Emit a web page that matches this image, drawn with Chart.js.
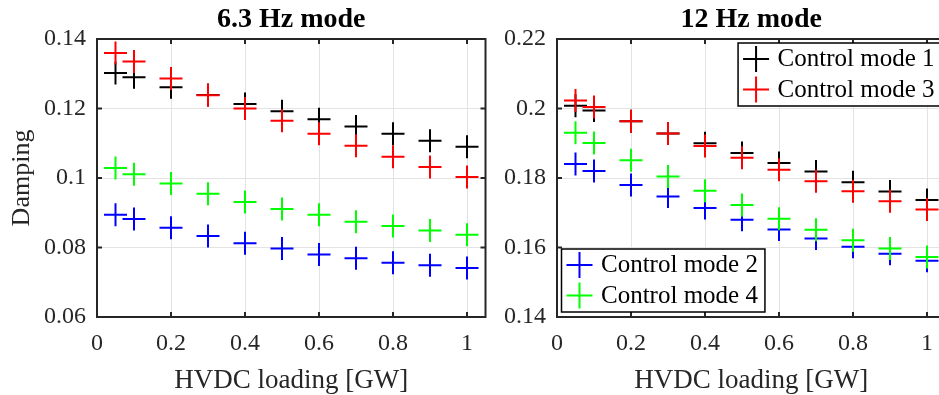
<!DOCTYPE html>
<html>
<head>
<meta charset="utf-8">
<script src="https://cdn.jsdelivr.net/npm/chart.js@4.4.1/dist/chart.umd.min.js"></script>
<style>
html, body { margin: 0; padding: 0; background: #fff; }
body { width: 939px; height: 395px; overflow: hidden; position: relative; }
#grafico63 { position: absolute; left: 0; top: 0; }
#grafico12 { position: absolute; left: 495px; top: 0; }
</style>
</head>
<body>
<canvas id="grafico63" width="499" height="395"></canvas>
<canvas id="grafico12" width="464" height="395"></canvas>
<script>
// HVDC loading [GW]
var cargas = [0.05, 0.1, 0.2, 0.3, 0.4, 0.5, 0.6, 0.7, 0.8, 0.9, 1.0];
var ticksX = [0, 0.2, 0.4, 0.6, 0.8, 1];
var ticksY63 = [0.06, 0.08, 0.1, 0.12, 0.14];
var ticksY12 = [0.14, 0.16, 0.18, 0.2, 0.22];

var rotulos = ['Control mode 1', 'Control mode 2', 'Control mode 3', 'Control mode 4'];
var cores = ['#000000', '#0000ff', '#ff0000', '#00ff00'];

// 6.3 Hz mode
var modo1_63 = [0.1302, 0.1290, 0.1261, 0.1239, 0.1213, 0.1192, 0.1169, 0.1148, 0.1127, 0.1107, 0.1090];
var modo2_63 = [0.0894, 0.0882, 0.0857, 0.0833, 0.0812, 0.0797, 0.0780, 0.0769, 0.0756, 0.0749, 0.0741];
var modo3_63 = [0.1360, 0.1335, 0.1286, 0.1238, 0.1200, 0.1165, 0.1127, 0.1093, 0.1061, 0.1032, 0.1003];
var modo4_63 = [0.1029, 0.1011, 0.0984, 0.0955, 0.0931, 0.0911, 0.0894, 0.0874, 0.0862, 0.0849, 0.0837];

// 12 Hz mode
var modo1_12 = [0.2008, 0.1994, 0.1963, 0.1928, 0.1900, 0.1872, 0.1843, 0.1819, 0.1788, 0.1761, 0.1737];
var modo2_12 = [0.1840, 0.1820, 0.1780, 0.1747, 0.1714, 0.1680, 0.1652, 0.1626, 0.1602, 0.1582, 0.1562];
var modo3_12 = [0.2023, 0.2004, 0.1963, 0.1928, 0.1892, 0.1858, 0.1824, 0.1791, 0.1762, 0.1733, 0.1709];
var modo4_12 = [0.1930, 0.1901, 0.1851, 0.1804, 0.1763, 0.1722, 0.1683, 0.1651, 0.1621, 0.1597, 0.1573];

var fonte = '"Liberation Serif", "Times New Roman", serif';
var cinza = '#262626';

function formata(v) {
	return String(Math.round(v * 1000) / 1000);
}

function desenhaLegenda(chart, leg) {
	var ctx = chart.ctx, a = chart.chartArea;
	ctx.font = '25px ' + fonte;
	var w = 0;
	leg.itens.forEach(function(i) {
		w = Math.max(w, ctx.measureText(chart.data.datasets[i].label).width);
	});
	var bw = 18 + 21.5 + w + 7, bh = 63;
	var bx = leg.canto === 'ne' ? a.right - 4 - bw : a.left + 4.5;
	var by = leg.canto === 'ne' ? a.top + 4 : a.bottom - 5 - bh;
	ctx.fillStyle = '#fff';
	ctx.fillRect(bx, by, bw, bh);
	ctx.strokeStyle = '#000';
	ctx.lineWidth = 1.5;
	ctx.strokeRect(bx, by, bw, bh);
	leg.itens.forEach(function(i, k) {
		var ds = chart.data.datasets[i];
		var cx = bx + 18, cy = by + 16 + 30.5 * k;
		ctx.strokeStyle = ds.borderColor;
		ctx.lineWidth = 2;
		ctx.beginPath();
		ctx.moveTo(cx - 13, cy); ctx.lineTo(cx + 13, cy);
		ctx.moveTo(cx, cy - 13); ctx.lineTo(cx, cy + 13);
		ctx.stroke();
		ctx.fillStyle = '#000';
		ctx.textAlign = 'left';
		ctx.textBaseline = 'alphabetic';
		ctx.fillText(ds.label, cx + 21.5, by + 23.3 + 30.5 * k);
	});
}

// moldura do eixo (box on), ticks para dentro, titulo e legendas
var moldura = {
	id: 'moldura',
	afterDatasetsDraw: function(chart, args, opts) {
		var ctx = chart.ctx, a = chart.chartArea;
		var sx = chart.scales.x, sy = chart.scales.y;
		ctx.save();
		ctx.strokeStyle = cinza;
		ctx.lineWidth = 2;
		ctx.strokeRect(a.left, a.top, a.right - a.left, a.bottom - a.top);
		ctx.beginPath();
		sx.ticks.forEach(function(t) {
			var px = sx.getPixelForValue(t.value);
			ctx.moveTo(px, a.bottom); ctx.lineTo(px, a.bottom - 5);
			ctx.moveTo(px, a.top); ctx.lineTo(px, a.top + 5);
		});
		sy.ticks.forEach(function(t) {
			var py = sy.getPixelForValue(t.value);
			ctx.moveTo(a.left, py); ctx.lineTo(a.left + 5, py);
			ctx.moveTo(a.right, py); ctx.lineTo(a.right - 5, py);
		});
		ctx.stroke();

		ctx.fillStyle = '#000';
		ctx.font = 'bold 28px ' + fonte;
		ctx.textAlign = 'center';
		ctx.textBaseline = 'alphabetic';
		ctx.fillText(opts.titulo, (a.left + a.right) / 2, 27);

		opts.legendas.forEach(function(leg) {
			desenhaLegenda(chart, leg);
		});
		ctx.restore();
	}
};

function criaGrafico(id, titulo, series, ticksY, larguraY, tituloY, legendas) {
	var ctx = document.getElementById(id).getContext('2d');
	var datasets = series.map(function(valores, i) {
		return {
			label: rotulos[i],
			data: cargas.map(function(x, k) { return {x: x, y: valores[k]}; }),
			borderColor: cores[i],
			backgroundColor: cores[i],
			pointStyle: 'cross',
			pointRadius: 11.5,
			pointBorderWidth: 2,
			showLine: false,
			order: 4 - i
		};
	});
	return new Chart(ctx, {
		type: 'scatter',
		data: { datasets: datasets },
		plugins: [moldura],
		options: {
			responsive: false,
			animation: false,
			events: [],
			layout: { padding: { top: 39, right: 9, left: 0, bottom: 0 } },
			plugins: {
				legend: { display: false },
				tooltip: { enabled: false },
				moldura: { titulo: titulo, legendas: legendas }
			},
			scales: {
				x: {
					type: 'linear',
					min: 0,
					max: 1.05,
					afterBuildTicks: function(s) { s.ticks = ticksX.map(function(v) { return {value: v}; }); },
					afterFit: function(s) { s.height = 78; },
					grid: { color: '#e3e3e3', drawTicks: false },
					border: { display: false },
					ticks: { padding: 12, color: cinza, font: { family: fonte, size: 24 }, callback: formata },
					title: {
						display: true,
						text: 'HVDC loading [GW]',
						color: cinza,
						font: { family: fonte, size: 27 },
						padding: { top: 0, bottom: -2 }
					}
				},
				y: {
					type: 'linear',
					min: ticksY[0],
					max: ticksY[ticksY.length - 1],
					afterBuildTicks: function(s) { s.ticks = ticksY.map(function(v) { return {value: v}; }); },
					afterFit: function(s) { s.width = larguraY; },
					grid: { color: '#e3e3e3', drawTicks: false },
					border: { display: false },
					ticks: { padding: 11, color: cinza, font: { family: fonte, size: 24 }, callback: formata },
					title: {
						display: !!tituloY,
						text: tituloY,
						color: cinza,
						font: { family: fonte, size: 26 },
						padding: { top: 7, bottom: 0 }
					}
				}
			}
		}
	});
}

criaGrafico('grafico63', '6.3 Hz mode', [modo1_63, modo2_63, modo3_63, modo4_63], ticksY63, 97, 'Damping', []);
criaGrafico('grafico12', '12 Hz mode', [modo1_12, modo2_12, modo3_12, modo4_12], ticksY12, 62, '',
	[{canto: 'ne', itens: [0, 2]}, {canto: 'sw', itens: [1, 3]}]);
</script>
</body>
</html>
